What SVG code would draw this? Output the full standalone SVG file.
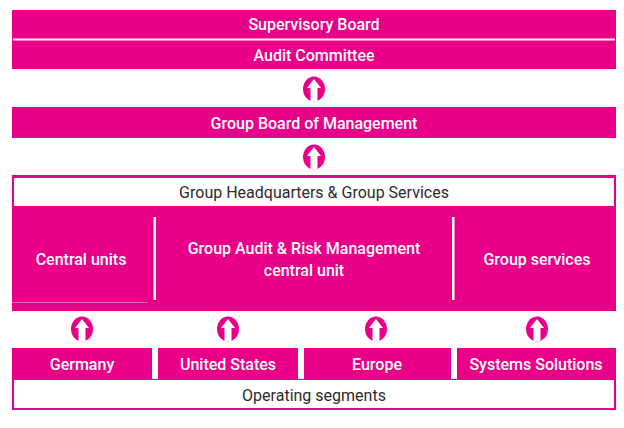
<svg xmlns="http://www.w3.org/2000/svg" width="624" height="428" viewBox="0 0 624 428">
<style>
.pk{fill:#EA0088}
.wt{fill:#FFFFFF}
.tb{font-family:Roboto,"Liberation Sans",sans-serif;font-weight:500;font-size:16px;fill:#FFFFFF;text-anchor:middle}
.td{font-family:Roboto,"Liberation Sans",sans-serif;font-weight:400;font-size:16px;fill:#2B2B2B;text-anchor:middle}
</style>
<defs>
<g id="arr">
<ellipse cx="0" cy="0" rx="11" ry="12.5" class="pk"/>
<path d="M0,-10 L7,-1 L3.5,-1 L3.5,12.5 L-3.5,12.5 L-3.5,-1 L-7,-1 Z" class="wt"/>
</g>
</defs>
<rect width="624" height="428" fill="#FFFFFF"/>
<g id="supervisory-board">
<rect x="12" y="10" width="604" height="59" class="pk"/>
<rect x="13" y="38.5" width="602" height="2" class="wt"/>
<text x="314" y="30" class="tb">Supervisory Board</text>
</g>
<g id="audit-committee">
<text x="314" y="61" class="tb">Audit Committee</text>
</g>
<g id="group-board">
<rect x="12" y="107" width="604" height="31" class="pk"/>
<text x="314" y="129" class="tb">Group Board of Management</text>
</g>
<g id="group-hq">
<rect x="12" y="175" width="604" height="136" class="pk"/>
<rect x="14" y="178" width="600" height="28" class="wt"/>
<text x="314" y="197.5" class="td">Group Headquarters &amp; Group Services</text>
<rect x="153.5" y="217" width="2.5" height="83" class="wt"/>
<rect x="452" y="217" width="2.5" height="83" class="wt"/>
<rect x="12" y="302" width="136" height="1" fill="#F060A8"/>
</g>
<g id="central-units">
<text x="81" y="265" class="tb">Central units</text>
</g>
<g id="group-audit">
<text x="304" y="254" class="tb">Group Audit &amp; Risk Management</text>
<text x="304" y="276" class="tb">central unit</text>
</g>
<g id="group-services">
<text x="537" y="265" class="tb">Group services</text>
</g>
<g id="operating-segments">
<rect x="12" y="379" width="604" height="31" class="pk"/>
<rect x="14" y="380" width="600" height="28" class="wt"/>
<text x="314" y="401" class="td">Operating segments</text>
</g>
<g id="germany">
<rect x="12" y="348" width="140" height="32" class="pk"/>
<text x="82" y="370" class="tb">Germany</text>
</g>
<g id="united-states">
<rect x="158" y="348" width="140" height="32" class="pk"/>
<text x="228" y="370" class="tb">United States</text>
</g>
<g id="europe">
<rect x="304" y="348" width="147" height="32" class="pk"/>
<text x="377" y="370" class="tb">Europe</text>
</g>
<g id="systems-solutions">
<rect x="457" y="348" width="159" height="32" class="pk"/>
<text x="536" y="370" class="tb">Systems Solutions</text>
</g>
<g id="connectors">
<use href="#arr" x="314" y="89"/>
<use href="#arr" x="314" y="157"/>
<use href="#arr" x="82" y="329"/>
<use href="#arr" x="228" y="329"/>
<use href="#arr" x="376" y="329"/>
<use href="#arr" x="537" y="329"/>
</g>
</svg>
